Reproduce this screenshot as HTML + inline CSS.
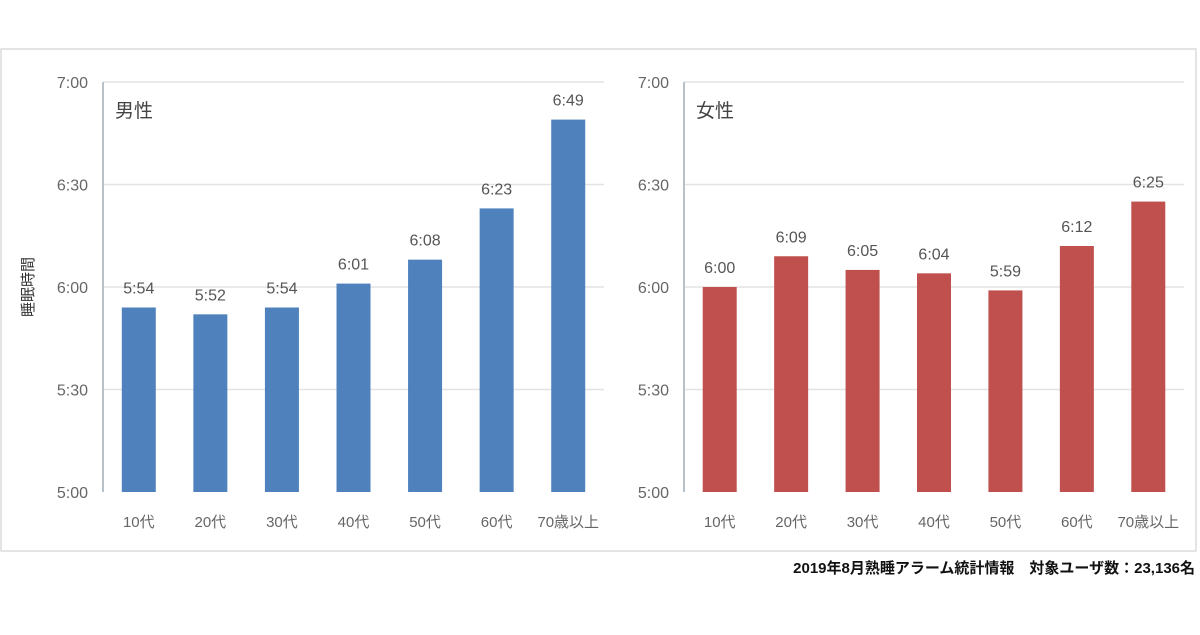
<!DOCTYPE html>
<html><head><meta charset="utf-8">
<style>
html,body{margin:0;padding:0;background:#fff;}
body{width:1200px;height:630px;overflow:hidden;position:relative;font-family:"Liberation Sans","Noto Sans CJK JP",sans-serif;}
svg text{font-family:"Liberation Sans","Noto Sans CJK JP",sans-serif;}
</style></head>
<body>
<svg id="c" width="1200" height="630" xmlns="http://www.w3.org/2000/svg">
<rect x="1" y="49" width="1195" height="502" fill="#fff" stroke="#dcdcdc" stroke-width="1.5"/>
<text x="33" y="287" font-size="15" fill="#333" text-anchor="middle" transform="rotate(-90 33 287)">睡眠時間</text>
<text x="1195" y="573" font-size="15" font-weight="bold" fill="#111" text-anchor="end">2019年8月熟睡アラーム統計情報　対象ユーザ数：23,136名</text>
</svg>
<script>
const categories=["10代","20代","30代","40代","50代","60代","70歳以上"];
const maleValues=[354,352,354,361,368,383,409];
const femaleValues=[360,369,365,364,359,372,385];
const yTicks=[300,330,360,390,420];
const panelTitles=["男性","女性"];

const svgEl=document.getElementById('c');
const NS='http://www.w3.org/2000/svg';
const yMin=300,yMax=420,plotTop=82,plotBottom=492;
function yPos(v){return plotBottom-(v-yMin)/(yMax-yMin)*(plotBottom-plotTop);}
function fmt(m){return Math.floor(m/60)+':'+String(m%60).padStart(2,'0');}
function mk(tag,attrs){const e=document.createElementNS(NS,tag);for(const k in attrs)e.setAttribute(k,attrs[k]);svgEl.appendChild(e);return e;}

function panel(ax,right,vals,color,title,key){
  const step=(right-ax)/categories.length;
  yTicks.forEach(t=>{
    if(t>yMin){const g=mk('line',{x1:ax,x2:right,y1:yPos(t),y2:yPos(t),stroke:'#e3e3e3','stroke-width':1.5});
    
    }
    const tl=mk('text',{x:ax-15,y:yPos(t)+6,'font-size':16,fill:'#666','text-anchor':'end'});
    tl.textContent=fmt(t);
    
    
  });
  const axl=mk('line',{x1:ax,x2:ax,y1:plotTop,y2:plotBottom,stroke:'#b8c0c8','stroke-width':2});
  
  
  const tt=mk('text',{x:ax+12,y:117,'font-size':19,fill:'#444'});
  tt.textContent=title;
  
  
  vals.forEach((v,i)=>{
    const cx=ax+step*(i+0.5);
    const b=mk('rect',{x:cx-17,y:yPos(v),width:34,height:plotBottom-yPos(v),fill:color});
    
    
    const l=mk('text',{x:cx,y:yPos(v)-14,'font-size':16,fill:'#555','text-anchor':'middle'});
    l.textContent=fmt(v);
    
    
    const c=mk('text',{x:cx,y:527,'font-size':15,fill:'#666','text-anchor':'middle'});
    c.textContent=categories[i];
    
    
  });
}
panel(103,604,maleValues,'#4f81bd',panelTitles[0],'male');
panel(684,1184,femaleValues,'#c0504d',panelTitles[1],'female');
</script>
</body></html>
